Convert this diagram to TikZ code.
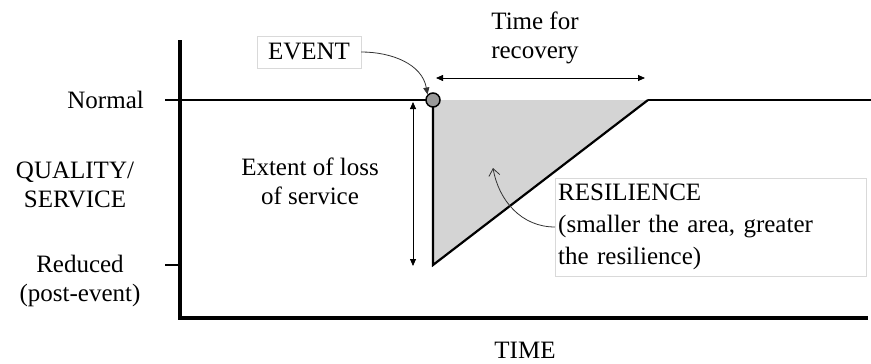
\documentclass[tikz,border=0pt]{standalone}
\usepackage{fontspec}
\setmainfont{Liberation Serif}
\usetikzlibrary{arrows.meta}

\tikzset{
  lbl/.style = {font=\fontsize{25}{29}\selectfont, align=center, inner sep=0pt},
  tagbox/.style = {lbl, draw=black!15, fill=white, inner sep=3pt, align=left},
  dim/.style = {{Triangle[length=7pt,width=6pt]}-{Triangle[length=7pt,width=6pt]}, line width=0.8pt}
}

\begin{document}
\begin{tikzpicture}[x=1pt, y=-1pt]
\useasboundingbox (0,0) rectangle (871,364);

% key points
\coordinate (ev) at (433,100);
\coordinate (low) at (433,265);
\coordinate (rec) at (648,100);

% loss area
\fill[black!17] (ev)--(rec)--(low)--cycle;

% axes
\draw[line width=4.5pt] (180,40)--(180,318)--(868,318);
\draw[line width=1.8pt] (165,100)--(ev);
\draw[line width=1.8pt] (rec)--(871,100);
\draw[line width=1.8pt] (165,265)--(180,265);
\draw[line width=2.2pt] (ev)--(low)--(rec);
\node[circle, draw, line width=1.5pt, fill=black!40, minimum size=14pt, inner sep=0pt] (evdot) at (ev) {};

% labels
\node[lbl, anchor=east] (normal) at (144,100) {Normal};
\node[lbl] (qual) at (75,185) {QUALITY/\\SERVICE};
\node[lbl] (reduced) at (80,281) {Reduced\\(post-event)};
\node[lbl] (time) at (525,350) {TIME};
\node[lbl] (extent) at (310,181) {Extent of loss\\of service};
\node[lbl] (trec) at (535,38) {Time for\\recovery};
\node[tagbox, minimum width=104pt, minimum height=32pt] (event) at (309,52) {EVENT};
\node[tagbox, font=\fontsize{25}{32}\selectfont, anchor=west, minimum height=98pt, text width=305pt] (resil) at (555,227) {RESILIENCE\\(smaller the area, greater\\the resilience)};

% arrows
\coordinate (dl) at (436,78);
\coordinate (dr) at (645,78);
\draw[dim] (dl)--(dr);
\coordinate (lt) at (413,102);
\coordinate (lb) at (413,266);
\draw[dim] (lt)--(lb);
\draw[-{Triangle[length=7pt,width=6pt]}, line width=0.8pt, black!80] (event.east) to[out=0, in=100] (evdot.north west);
\draw[-{Straight Barb[length=7pt,width=11pt]}, line width=0.8pt, black!80] (resil.west) to[out=180, in=-80] (493,168);
\end{tikzpicture}
\end{document}
